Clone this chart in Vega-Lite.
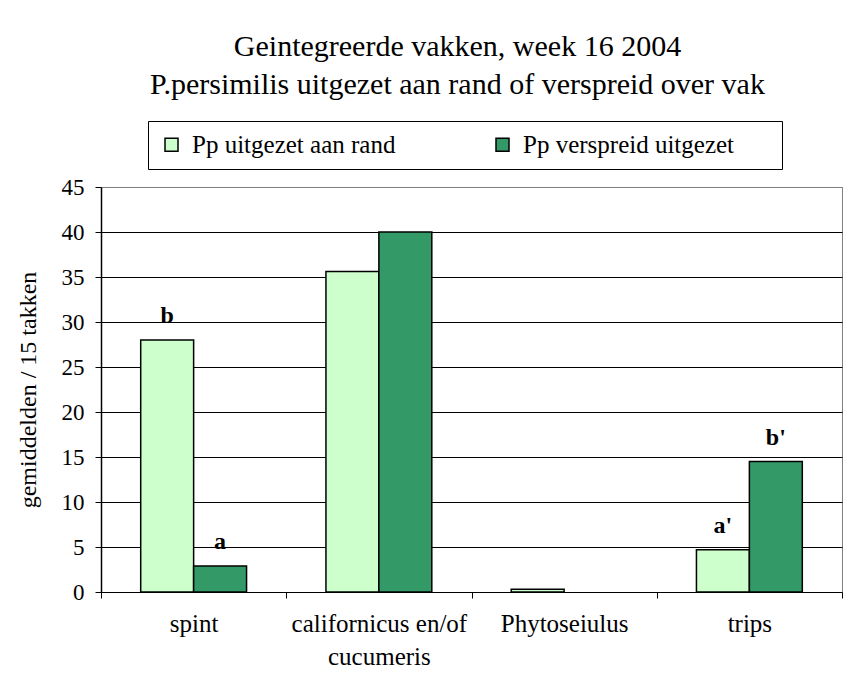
{
  "$schema": "https://vega.github.io/schema/vega-lite/v6.json",
  "width": 741,
  "height": 405,
  "autosize": {"type": "none"},
  "padding": {"left": 101, "top": 187, "right": 13, "bottom": 86},
  "background": "white",
  "config": {
    "font": "Liberation Serif",
    "view": {"stroke": "#808080", "strokeWidth": 1}
  },
  "title": {
    "text": ["Geintegreerde vakken, week 16 2004", "P.persimilis uitgezet aan rand of verspreid over vak"],
    "fontSize": 30,
    "fontWeight": "normal",
    "font": "Liberation Serif",
    "lineHeight": 38,
    "anchor": "middle",
    "frame": "group",
    "dx": -14,
    "offset": 21,
    "color": "black"
  },
  "data": {
    "values": [
      {"categorie": "spint", "groep": "Pp uitgezet aan rand", "waarde": 28.0, "letter": "b"},
      {"categorie": "spint", "groep": "Pp verspreid uitgezet", "waarde": 2.9, "letter": "a"},
      {"categorie": "californicus en/of cucumeris", "groep": "Pp uitgezet aan rand", "waarde": 35.6, "letter": ""},
      {"categorie": "californicus en/of cucumeris", "groep": "Pp verspreid uitgezet", "waarde": 40.0, "letter": ""},
      {"categorie": "Phytoseiulus", "groep": "Pp uitgezet aan rand", "waarde": 0.3, "letter": ""},
      {"categorie": "Phytoseiulus", "groep": "Pp verspreid uitgezet", "waarde": 0.0, "letter": ""},
      {"categorie": "trips", "groep": "Pp uitgezet aan rand", "waarde": 4.7, "letter": "a'"},
      {"categorie": "trips", "groep": "Pp verspreid uitgezet", "waarde": 14.5, "letter": "b'"}
    ]
  },
  "encoding": {
    "x": {
      "field": "categorie",
      "type": "nominal",
      "sort": ["spint", "californicus en/of cucumeris", "Phytoseiulus", "trips"],
      "scale": {"paddingInner": 0, "paddingOuter": 0},
      "axis": {
        "title": null,
        "labelAngle": 0,
        "labelFontSize": 25,
        "labelPadding": 13,
        "labelLineHeight": 33,
        "labelColor": "black",
        "labelOverlap": false,
        "labelBound": false,
        "tickBand": "extent",
        "tickSize": 6,
        "tickColor": "black",
        "domainColor": "black",
        "domainWidth": 1,
        "labelExpr": "datum.value == 'californicus en/of cucumeris' ? ['californicus en/of', 'cucumeris'] : datum.label"
      }
    },
    "xOffset": {
      "field": "groep",
      "type": "nominal",
      "sort": ["Pp uitgezet aan rand", "Pp verspreid uitgezet"],
      "scale": {"paddingOuter": 0.75, "paddingInner": 0}
    },
    "y": {
      "field": "waarde",
      "type": "quantitative",
      "scale": {"domain": [0, 45], "nice": false},
      "axis": {
        "title": "gemiddelden / 15 takken",
        "titleFontSize": 24,
        "titleFontWeight": "normal",
        "titleColor": "black",
        "titlePadding": 21,
        "labelFontSize": 23,
        "labelColor": "black",
        "labelPadding": 11,
        "tickSize": 6,
        "tickColor": "black",
        "domainColor": "black",
        "domainWidth": 1.5,
        "values": [0, 5, 10, 15, 20, 25, 30, 35, 40, 45],
        "grid": true,
        "gridColor": {"condition": {"test": "datum.value == 45 || datum.value == 0", "value": "#808080"}, "value": "black"},
        "gridWidth": 1
      }
    }
  },
  "layer": [
    {
      "mark": {"type": "bar", "stroke": "black", "strokeWidth": 1.5},
      "encoding": {
        "strokeOpacity": {"condition": {"test": "datum.waarde == 0", "value": 0}, "value": 1},
        "fill": {
          "field": "groep",
          "type": "nominal",
          "scale": {"domain": ["Pp uitgezet aan rand", "Pp verspreid uitgezet"], "range": ["#CCFFCC", "#339966"]},
          "legend": {
            "orient": "none",
            "legendX": 47,
            "legendY": -66,
            "direction": "horizontal",
            "title": null,
            "strokeColor": "black",
            "fillColor": "white",
            "padding": 11,
            "labelFontSize": 25,
            "labelFont": "Liberation Serif",
            "labelColor": "black",
            "labelLimit": 400,
            "symbolType": "square",
            "symbolSize": 169,
            "symbolStrokeColor": "black",
            "symbolStrokeWidth": 1.5,
            "symbolOpacity": 1,
            "columnPadding": 94,
            "labelOffset": 8,
            "labelExpr": "datum.label + (datum.value == 'Pp verspreid uitgezet' ? '\u2800\u2800' : '')"
          }
        }
      }
    },
    {
      "mark": {"type": "text", "dy": -17, "baseline": "alphabetic", "fontWeight": "bold", "fontSize": 24, "font": "Liberation Serif", "color": "black"},
      "encoding": {"text": {"field": "letter"}}
    }
  ]
}
